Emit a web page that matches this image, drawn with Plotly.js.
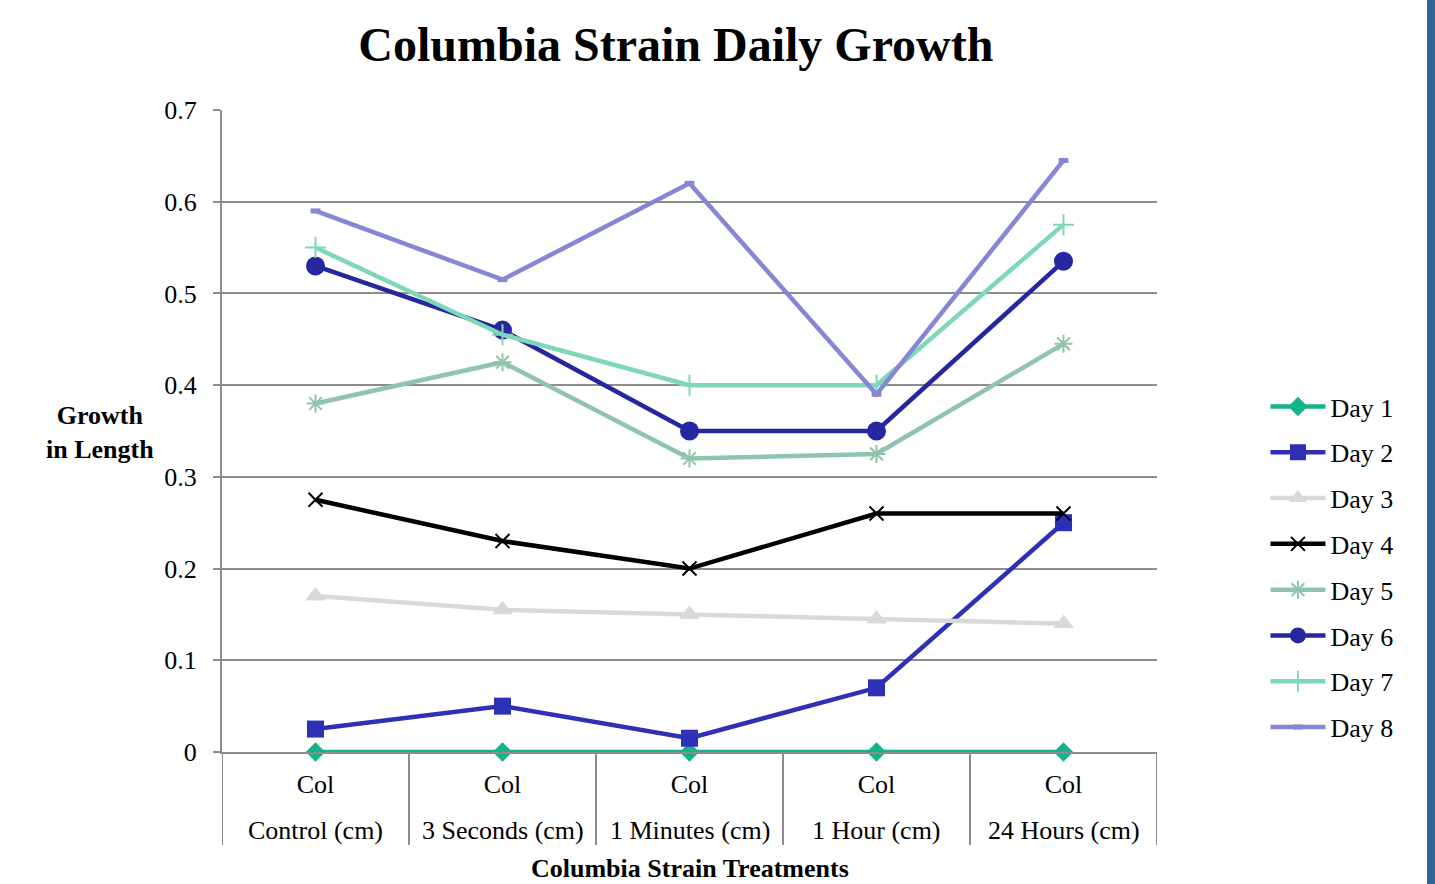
<!DOCTYPE html>
<html>
<head>
<meta charset="utf-8">
<script src="https://cdn.plot.ly/plotly-3.0.1.min.js"></script>
<style>
  html, body { margin: 0; padding: 0; background: #ffffff; }
  #chart { width: 1435px; height: 884px; }
</style>
</head>
<body>
<div id="chart"></div>
<script>
// Treatment groups (lower label row) and strain (upper label row)
const treatments = ["Control (cm)", "3 Seconds (cm)", "1 Minutes (cm)", "1 Hour (cm)", "24 Hours (cm)"];
const strain = ["Col", "Col", "Col", "Col", "Col"];

// Growth in length (cm) per day
const day1 = [0, 0, 0, 0, 0];
const day2 = [0.025, 0.05, 0.015, 0.07, 0.25];
const day3 = [0.17, 0.155, 0.15, 0.145, 0.14];
const day4 = [0.275, 0.23, 0.2, 0.26, 0.26];
const day5 = [0.38, 0.425, 0.32, 0.325, 0.445];
const day6 = [0.53, 0.46, 0.35, 0.35, 0.535];
const day7 = [0.55, 0.455, 0.4, 0.4, 0.575];
const day8 = [0.59, 0.515, 0.62, 0.39, 0.645];

const seriesNames = ["Day 1", "Day 2", "Day 3", "Day 4", "Day 5", "Day 6", "Day 7", "Day 8"];
const seriesValues = [day1, day2, day3, day4, day5, day6, day7, day8];

const FONT = "Liberation Serif";
const GRID = "#8c8c8c";
const FS = 26;

// Line and marker style per series
const styles = [
  { color: "#14b389", symbol: "diamond", size: 15, lw: 0 },
  { color: "#2e30b6", symbol: "square", size: 17, lw: 0 },
  { color: "#d9d9d9", symbol: "triangle-up", size: 18, lw: 0 },
  { color: "#000000", symbol: "x-thin", size: 14, lw: 2 },
  { color: "#8fc5ad", symbol: "asterisk", size: 15, lw: 2 },
  { color: "#2626a0", symbol: "circle", size: 19, lw: 0 },
  { color: "#7fd8b5", symbol: "cross-thin", size: 15, lw: 2 },
  { color: "#8686d6", symbol: "line-ew", size: 7, lw: 5 }
];

const traces = seriesValues.map((vals, i) => {
  const s = styles[i];
  return {
    type: "scatter",
    mode: "lines+markers",
    name: seriesNames[i],
    legendgroup: "g" + i,
    cliponaxis: false,
    x: treatments,
    y: vals,
    line: { color: s.color, width: 4.5 },
    marker: {
      symbol: s.symbol,
      size: s.size,
      color: s.color,
      line: { color: s.color, width: s.lw }
    }
  };
});

// Group dividers below the axis, at every category boundary
const shapes = [];
for (let i = 0; i <= treatments.length; i++) {
  shapes.push({
    type: "line", xref: "x", yref: "paper",
    x0: i - 0.5, x1: i - 0.5, y0: 0, y1: -0.145,
    line: { color: GRID, width: 2 }
  });
}
// Blue page edge strip on the right
shapes.push({
  type: "rect", xref: "paper", yref: "paper",
  x0: 1.2888, x1: 1.3, y0: -0.3, y1: 1.3,
  fillcolor: "#32659b", line: { width: 0 }, layer: "above"
});

// Treatment names as the second label row
const annotations = treatments.map(t => ({
  text: t,
  xref: "x", yref: "paper",
  x: t, y: -0.123,
  xanchor: "center", yanchor: "middle",
  showarrow: false,
  font: { family: FONT, size: FS, color: "#000000" }
}));
annotations.push(
  {
    text: "<b>Growth<br>in Length</b>",
    xref: "paper", yref: "paper",
    x: -0.1305, y: 0.497,
    xanchor: "center", yanchor: "middle",
    showarrow: false,
    font: { family: FONT, size: 26, color: "#000000" }
  },
  {
    text: "<b>Columbia Strain Treatments</b>",
    xref: "paper", yref: "paper",
    x: 0.5, y: -0.1807,
    xanchor: "center", yanchor: "middle",
    showarrow: false,
    font: { family: FONT, size: 26, color: "#000000" }
  }
);

const layout = {
  width: 1435,
  height: 884,
  paper_bgcolor: "#ffffff",
  plot_bgcolor: "#ffffff",
  margin: { l: 222, r: 278, t: 110, b: 132 },
  font: { family: FONT, color: "#000000", size: FS },
  title: {
    text: "<b>Columbia Strain Daily Growth</b>",
    font: { family: FONT, size: 48, color: "#000000" },
    x: 0.471, xanchor: "center",
    y: 0.95, yref: "container", yanchor: "middle"
  },
  xaxis: {
    type: "category",
    range: [-0.5, 4.5],
    tickvals: treatments,
    ticktext: strain,
    showgrid: false,
    showline: true,
    linecolor: GRID,
    linewidth: 2,
    ticks: "",
    ticklabelstandoff: 8,
    tickfont: { family: FONT, size: FS, color: "#000000" },
    fixedrange: true
  },
  yaxis: {
    range: [0, 0.7],
    dtick: 0.1,
    tickformat: ".1~f",
    showgrid: true,
    gridcolor: GRID,
    gridwidth: 2,
    zeroline: false,
    showline: true,
    linecolor: GRID,
    linewidth: 2,
    ticks: "outside",
    ticklen: 7,
    tickcolor: GRID,
    tickwidth: 2,
    ticklabelstandoff: 11,
    tickfont: { family: FONT, size: FS, color: "#000000" },
    fixedrange: true
  },
  legend: {
    x: 1.116, xanchor: "left",
    y: 0.5747, yanchor: "top",
    font: { family: FONT, size: FS, color: "#000000" },
    tracegroupgap: 9,
    itemwidth: 55,
    bgcolor: "rgba(0,0,0,0)"
  },
  showlegend: true,
  annotations: annotations,
  shapes: shapes
};

Plotly.newPlot("chart", traces, layout, { displayModeBar: false, staticPlot: true });
</script>
</body>
</html>
